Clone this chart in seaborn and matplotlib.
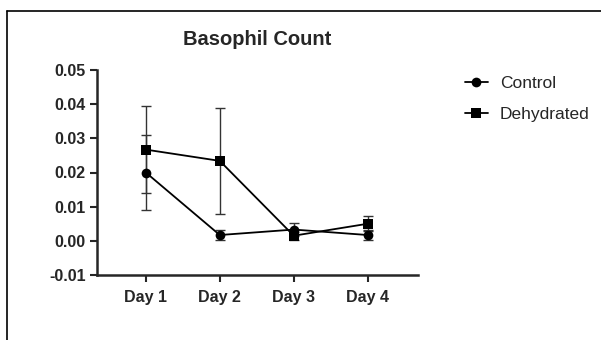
import matplotlib
matplotlib.use("Agg")
import matplotlib.pyplot as plt
from matplotlib.lines import Line2D
import seaborn as sns
import pandas as pd
import numpy as np

days = ["Day 1", "Day 2", "Day 3", "Day 4"]
control = [0.0200, 0.0017, 0.0033, 0.0017]
control_err = [0.0110, 0.0016, 0.0020, 0.0015]
dehydrated = [0.0267, 0.0234, 0.0015, 0.0050]
dehydrated_err = [0.0128, 0.0154, 0.0012, 0.0022]
yticks = [-0.01, 0.00, 0.01, 0.02, 0.03, 0.04, 0.05]

sns.set_style("ticks")
plt.rcParams['font.family'] = ['Liberation Sans', 'DejaVu Sans']

df = pd.DataFrame({
    "Day": days * 2,
    "Value": control + dehydrated,
    "Group": ["Control"] * 4 + ["Dehydrated"] * 4,
})

fig = plt.figure(figsize=(6.01, 3.40), dpi=100)
ax = fig.add_axes([97 / 601, 1 - 275 / 340, (418 - 97) / 601, (275 - 70) / 340])

sns.lineplot(data=df, x="Day", y="Value", hue="Group", style="Group",
             markers={"Control": "o", "Dehydrated": "s"}, dashes=False,
             palette={"Control": "black", "Dehydrated": "black"},
             markersize=7, linewidth=1.3, markeredgewidth=0,
             errorbar=None, ax=ax)

xpos = np.arange(len(days))
ax.errorbar(xpos, control, yerr=control_err, fmt="none", ecolor="#333333",
            elinewidth=1, capsize=3.5, capthick=1, zorder=1)
ax.errorbar(xpos, dehydrated, yerr=dehydrated_err, fmt="none", ecolor="#333333",
            elinewidth=1, capsize=3.5, capthick=1, zorder=1)

ax.set_xlim(-0.66, 3.68)
ax.set_ylim(-0.01, 0.05)
ax.set_yticks(yticks)
ax.set_yticklabels([f"{v:.2f}" for v in yticks])
ax.set_xlabel("")
ax.set_ylabel("")
for s in ["top", "right"]:
    ax.spines[s].set_visible(False)
for s in ["left", "bottom"]:
    ax.spines[s].set_linewidth(1.8)
ax.tick_params(axis="both", width=1.5, length=5, labelsize=11.5, pad=3)
for lab in ax.get_xticklabels() + ax.get_yticklabels():
    lab.set_fontweight("bold")
ax.tick_params(axis="x", pad=6)

ax.set_title("Basophil Count", fontsize=14.5, fontweight="bold", pad=18)

handles, labels = ax.get_legend_handles_labels()
ax.legend(handles, labels, loc="upper left", bbox_to_anchor=(465 / 601, 1 - 76 / 340),
          bbox_transform=fig.transFigure, frameon=False, fontsize=12.5,
          handlelength=1.3, handletextpad=0.7, labelspacing=0.9, borderpad=0,
          borderaxespad=0)

fig.add_artist(Line2D([7 / 601, 1.0], [1 - 10.5 / 340, 1 - 10.5 / 340],
                      transform=fig.transFigure, color="black", linewidth=1.2))
fig.add_artist(Line2D([7 / 601, 7 / 601], [0.0, 1 - 10.5 / 340],
                      transform=fig.transFigure, color="black", linewidth=1.2))

fig.savefig("out.png", dpi=100, facecolor="white")
